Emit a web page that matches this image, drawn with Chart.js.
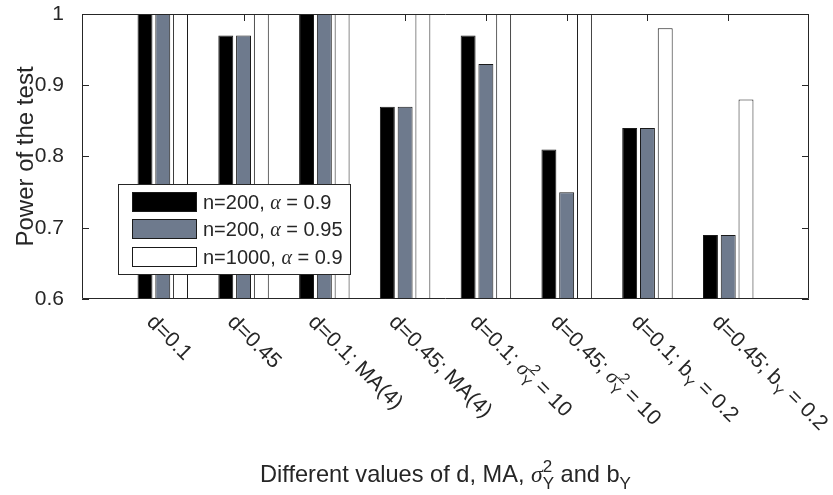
<!DOCTYPE html>
<html>
<head>
<meta charset="utf-8">
<script src="https://cdn.jsdelivr.net/npm/chart.js@4.4.1/dist/chart.umd.min.js"></script>
<style>
  html, body { margin: 0; padding: 0; background: #fff; }
  #wrap { width: 833px; height: 495px; }
</style>
</head>
<body>
<div id="wrap"><canvas id="chart" width="833" height="495"></canvas></div>
<script>
// categories use ^{..} for superscripts and _{..} for subscripts
const categories = [
  "d=0.1",
  "d=0.45",
  "d=0.1; MA(4)",
  "d=0.45; MA(4)",
  "d=0.1; σ^{2}_{Y} = 10",
  "d=0.45; σ^{2}_{Y} = 10",
  "d=0.1; b_{Y} = 0.2",
  "d=0.45; b_{Y} = 0.2"
];

const seriesLabels = ["n=200, α = 0.9", "n=200, α = 0.95", "n=1000, α = 0.9"];
const n200a90 = [1, 0.97, 1, 0.87, 0.97, 0.81, 0.84, 0.69];
const n200a95 = [1, 0.97, 1, 0.87, 0.93, 0.75, 0.84, 0.69];
const n1000a90 = [1, 1, 1, 1, 1, 1, 0.98, 0.88];
const seriesColors = ["#000000", "#6e7a8d", "#ffffff"];

const yTickLabels = ["0.6", "0.7", "0.8", "0.9", "1"];
const xTitle = "Different values of d, MA, σ^{2}_{Y} and b_{Y}";
const yTitle = "Power of the test";

const AXIS_COLOR = "#262626";
const SANS = '"Liberation Sans", Arial, sans-serif';
const SERIF = '"Liberation Serif", "Times New Roman", serif';

function parseRich(str) {
  const parts = [];
  let buf = "";
  let i = 0;
  while (i < str.length) {
    const c = str[i];
    if ((c === "^" || c === "_") && str[i + 1] === "{") {
      if (buf) { parts.push({ t: buf, k: "n" }); buf = ""; }
      const end = str.indexOf("}", i);
      parts.push({ t: str.slice(i + 2, end), k: c === "^" ? "sup" : "sub" });
      i = end + 1;
    } else {
      buf += c;
      i++;
    }
  }
  if (buf) parts.push({ t: buf, k: "n" });
  return parts;
}

function layoutRich(ctx, str, size) {
  const ops = [];
  let x = 0;
  let prev = null;
  let supStart = 0, supW = 0;
  parseRich(str).forEach(p => {
    if (p.k === "n") {
      p.t.split(/([α-ω]+)/).forEach(run => {
        if (!run) return;
        const greek = /[α-ω]/.test(run);
        const font = greek ? `italic ${size}px ${SERIF}` : `${size}px ${SANS}`;
        ctx.font = font;
        const w = ctx.measureText(run).width;
        ops.push({ text: run, font, dx: x, dy: 0 });
        x += w;
      });
    } else {
      const font = `${Math.round(size * 0.72)}px ${SANS}`;
      ctx.font = font;
      const w = ctx.measureText(p.t).width;
      if (p.k === "sup") {
        ops.push({ text: p.t, font, dx: x, dy: -size * 0.42 });
        supStart = x; supW = w;
        x += w;
      } else if (prev === "sup") {
        ops.push({ text: p.t, font, dx: supStart, dy: size * 0.3 });
        x = supStart + Math.max(supW, w);
      } else {
        ops.push({ text: p.t, font, dx: x, dy: size * 0.3 });
        x += w;
      }
    }
    prev = p.k;
  });
  return { ops, width: x };
}

function drawRich(ctx, str, size, x, y, angle, align) {
  const lay = layoutRich(ctx, str, size);
  ctx.save();
  ctx.translate(x, y);
  ctx.rotate(angle);
  const off = align === "center" ? -lay.width / 2 : 0;
  ctx.textAlign = "left";
  ctx.textBaseline = "alphabetic";
  ctx.fillStyle = AXIS_COLOR;
  lay.ops.forEach(o => {
    ctx.font = o.font;
    ctx.fillText(o.text, o.dx + off, o.dy);
  });
  ctx.restore();
}

const matlabAxes = {
  id: "matlabAxes",
  beforeDatasetsDraw(chart) {
    const { ctx, chartArea: a, scales } = chart;
    const tl = 7;
    ctx.save();
    ctx.strokeStyle = AXIS_COLOR;
    ctx.lineWidth = 1;
    ctx.beginPath();
    scales.y.ticks.forEach(t => {
      const py = Math.round(scales.y.getPixelForValue(t.value)) + 0.5;
      ctx.moveTo(a.left, py); ctx.lineTo(a.left + tl, py);
      ctx.moveTo(a.right, py); ctx.lineTo(a.right - tl, py);
    });
    categories.forEach((c, i) => {
      const px = Math.round(scales.x.getPixelForValue(i + 1)) + 0.5;
      ctx.moveTo(px, a.bottom); ctx.lineTo(px, a.bottom - tl);
      ctx.moveTo(px, a.top); ctx.lineTo(px, a.top + tl);
    });
    ctx.stroke();
    ctx.restore();
  },
  afterDatasetsDraw(chart) {
    const { ctx, chartArea: a, scales } = chart;
    const L = Math.round(a.left) + 0.5, R = Math.round(a.right) - 0.5;
    const T = Math.round(a.top) + 0.5, B = Math.round(a.bottom) - 0.5;
    ctx.save();
    ctx.strokeStyle = AXIS_COLOR;
    ctx.lineWidth = 1;
    ctx.beginPath();
    ctx.moveTo(L, T); ctx.lineTo(R, T); ctx.lineTo(R, B); ctx.lineTo(L, B); ctx.closePath();
    ctx.stroke();
    ctx.restore();

    // rotated category labels
    categories.forEach((c, i) => {
      const px = scales.x.getPixelForValue(i + 1);
      drawRich(ctx, c, 21.3, px - 17, a.bottom + 24, Math.PI / 4, "left");
    });

    // axis titles
    drawRich(ctx, xTitle, 23.6, (a.left + a.right) / 2, 482, 0, "center");
    ctx.save();
    ctx.fillStyle = AXIS_COLOR;
    ctx.font = `24px ${SANS}`;
    ctx.textAlign = "center";
    ctx.textBaseline = "alphabetic";
    ctx.translate(33, (a.top + a.bottom) / 2);
    ctx.rotate(-Math.PI / 2);
    ctx.fillText(yTitle, 0, 0);
    ctx.restore();

    // legend box
    const lx = 118, ly = 184, lw = 232, lh = 90;
    ctx.save();
    ctx.fillStyle = "#ffffff";
    ctx.fillRect(lx, ly, lw, lh);
    ctx.strokeStyle = AXIS_COLOR;
    ctx.lineWidth = 1;
    ctx.strokeRect(lx + 0.5, ly + 0.5, lw, lh);
    chart.data.datasets.forEach((ds, i) => {
      const cy = 201.7 + i * 27.5;
      ctx.fillStyle = ds.backgroundColor;
      ctx.fillRect(132, Math.round(cy - 10), 65, 20);
      ctx.strokeStyle = "#1a1a1a";
      ctx.strokeRect(132.5, Math.round(cy - 10) + 0.5, 64, 19);
      drawRich(ctx, ds.label, 20, 203, cy + 7, 0, "left");
    });
    ctx.restore();
  }
};

function makeDataset(label, values, color) {
  return {
    label,
    data: [null, ...values, null],
    backgroundColor: color,
    borderColor: "#1a1a1a",
    borderWidth: 1,
    categoryPercentage: 0.66,
    barPercentage: 0.84
  };
}

document.addEventListener("DOMContentLoaded", () => {
  const ctx = document.getElementById("chart");
  new Chart(ctx, {
    type: "bar",
    data: {
      labels: ["", ...categories, ""],
      datasets: [
        makeDataset(seriesLabels[0], n200a90, seriesColors[0]),
        makeDataset(seriesLabels[1], n200a95, seriesColors[1]),
        makeDataset(seriesLabels[2], n1000a90, seriesColors[2])
      ]
    },
    options: {
      responsive: false,
      animation: false,
      layout: { padding: { top: 14, right: 24, left: 0, bottom: 0 } },
      plugins: { legend: { display: false }, tooltip: { enabled: false } },
      scales: {
        x: {
          offset: false,
          grid: { display: false },
          border: { display: false },
          ticks: { display: false },
          afterFit(scale) { scale.height = 196; }
        },
        y: {
          min: 0.6,
          max: 1,
          grid: { display: false },
          border: { display: false },
          ticks: {
            stepSize: 0.1,
            padding: 10,
            color: AXIS_COLOR,
            font: { family: SANS, size: 21 },
            callback: (v) => yTickLabels[Math.round((v - 0.6) * 10)]
          },
          afterFit(scale) {
            scale.width = 82;
            scale.paddingTop = 0;
            scale.paddingBottom = 0;
          }
        }
      }
    },
    plugins: [matlabAxes]
  });
});
</script>
</body>
</html>
